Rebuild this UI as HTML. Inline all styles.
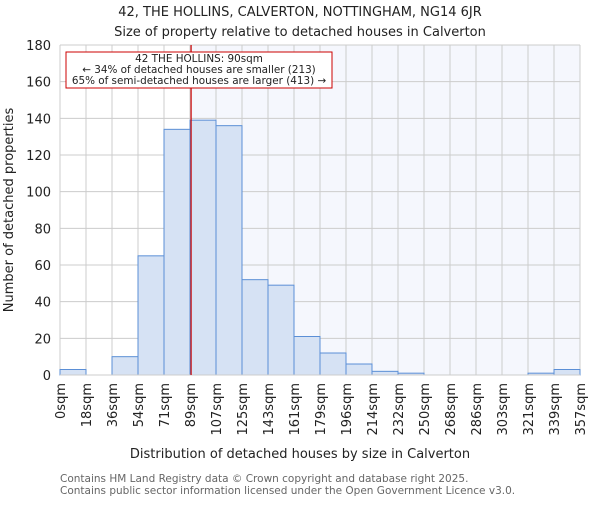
<!DOCTYPE html>
<html><head><meta charset="utf-8"><style>
body{margin:0;background:#fff;}
svg text{font-family:"DejaVu Sans","Liberation Sans",sans-serif;fill:#222;}
</style></head><body>
<svg width="600" height="500" xmlns="http://www.w3.org/2000/svg">
<text x="300" y="16" text-anchor="middle" font-size="13">42, THE HOLLINS, CALVERTON, NOTTINGHAM, NG14 6JR</text>
<text x="300" y="36" text-anchor="middle" font-size="13">Size of property relative to detached houses in Calverton</text>
<g id="plot"></g>
<text x="300" y="458" text-anchor="middle" font-size="13">Distribution of detached houses by size in Calverton</text>
<text transform="translate(13,210) rotate(-90)" text-anchor="middle" font-size="13">Number of detached properties</text>
<text x="60" y="482" font-size="10.5" style="fill:#666">Contains HM Land Registry data © Crown copyright and database right 2025.</text>
<text x="60" y="494" font-size="10.5" style="fill:#666">Contains public sector information licensed under the Open Government Licence v3.0.</text>
</svg>
<script>
const binLabels=["0sqm","18sqm","36sqm","54sqm","71sqm","89sqm","107sqm","125sqm","143sqm","161sqm","179sqm","196sqm","214sqm","232sqm","250sqm","268sqm","286sqm","303sqm","321sqm","339sqm","357sqm"];
const binEdges=[0,17.85,35.7,53.55,71.4,89.25,107.1,124.95,142.8,160.65,178.5,196.35,214.2,232.05,249.9,267.75,285.6,303.45,321.3,339.15,357];
const counts=[3,0,10,65,134,139,136,52,49,21,12,6,2,1,0,0,0,0,1,3];
const yTicks=[0,20,40,60,80,100,120,140,160,180];
const propertySize=90;
const NS="http://www.w3.org/2000/svg";
const X0=60,X1=580,Y0=375,Y1=45,XMAX=357,YMAX=180;
const xs=v=>X0+(v/XMAX)*(X1-X0);
const ys=v=>Y0-(v/YMAX)*(Y0-Y1);
const g=document.getElementById('plot');
function mk(t,a){const e=document.createElementNS(NS,t);for(const k in a)e.setAttribute(k,a[k]);g.appendChild(e);return e;}
let e=mk('rect',{x:xs(propertySize),y:Y1,width:X1-xs(propertySize),height:Y0-Y1,fill:'#f5f7fd'});


binEdges.forEach(v=>{const l=mk('line',{x1:xs(v),x2:xs(v),y1:Y1,y2:Y0,stroke:'#ccc','stroke-width':1});

});
yTicks.forEach(v=>{const l=mk('line',{x1:X0,x2:X1,y1:ys(v),y2:ys(v),stroke:'#ccc','stroke-width':1});


const t=mk('text',{x:X0-9,y:ys(v)+5,'text-anchor':'end','font-size':13});t.textContent=v;

});
counts.forEach((c,i)=>{if(c<=0)return;const r=mk('rect',{x:xs(binEdges[i]),y:ys(c),width:xs(binEdges[i+1])-xs(binEdges[i]),height:Y0-ys(c),fill:'#d6e2f4',stroke:'#5b8fd6','stroke-width':1});

});
e=mk('line',{x1:X0,x2:X1,y1:Y0,y2:Y0,stroke:'#ccc'});


binLabels.forEach((s,i)=>{const x=xs(binEdges[i]);const t=mk('text',{transform:`translate(${x+5},${Y0+8}) rotate(-90)`,'text-anchor':'end','font-size':13});t.textContent=s;

});
e=mk('line',{x1:xs(propertySize),x2:xs(propertySize),y1:Y1,y2:Y0,stroke:'#c00','stroke-width':1.2});


e=mk('rect',{x:66,y:52,width:266,height:36,fill:'#fff',stroke:'#c00','stroke-width':1});


["42 THE HOLLINS: 90sqm","← 34% of detached houses are smaller (213)","65% of semi-detached houses are larger (413) →"].forEach((s,i)=>{const t=mk('text',{x:199,y:62+i*11,'text-anchor':'middle','font-size':10.4});t.textContent=s;

});
</script>
</body></html>
